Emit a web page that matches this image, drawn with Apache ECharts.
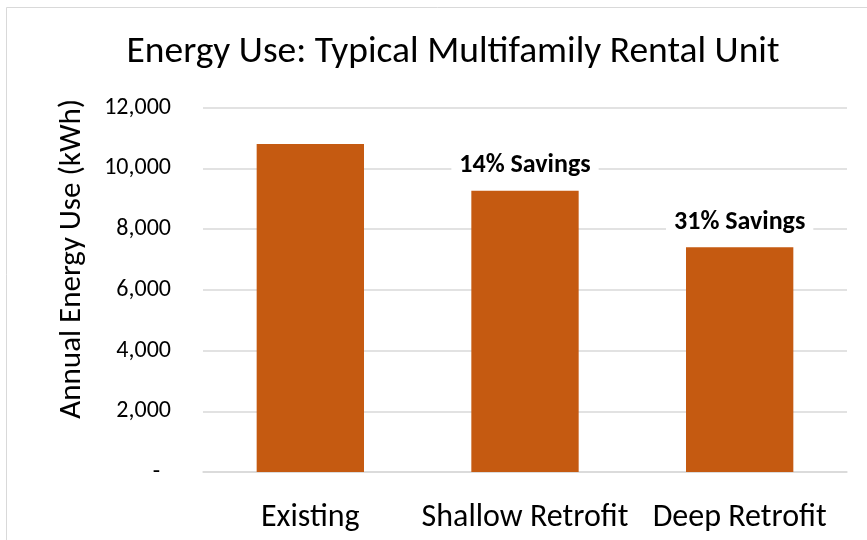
<!DOCTYPE html>
<html><head><meta charset="utf-8">
<script src="https://cdn.jsdelivr.net/npm/echarts@6/dist/echarts.min.js"></script>
<style>html,body{margin:0;padding:0;background:#fff}#c{width:867px;height:540px}</style>
</head><body><div id="c"></div>
<script>
const categories = ["Existing", "Shallow Retrofit", "Deep Retrofit"];
const energyUse = [10800, 9260, 7400];
const savingsLabels = ["", "14% Savings", "31% Savings"];
const yTicks = [0, 2000, 4000, 6000, 8000, 10000, 12000];

const FONT = 'Carlito, Calibri, "Open Sans", "Noto Sans", sans-serif';
const chart = echarts.init(document.getElementById('c'), null, {renderer: 'canvas'});
chart.setOption({
  animation: false,
  backgroundColor: '#fff',
  graphic: [{
    type: 'rect', shape: {x: 6.5, y: 7.5, width: 900, height: 600},
    style: {fill: 'none', stroke: '#d9d9d9', lineWidth: 1}, silent: true
  }],
  title: {
    text: 'Energy Use: Typical Multifamily Rental Unit',
    left: 448, top: 29, textAlign: 'center',
    textStyle: {fontFamily: FONT, fontSize: 37.5, fontWeight: 'normal', color: '#000'}
  },
  grid: {left: 203, right: 20, top: 107.5, bottom: 68},
  xAxis: {
    type: 'category', data: categories,
    axisLine: {lineStyle: {color: '#d9d9d9', width: 1.5}},
    axisTick: {show: false},
    axisLabel: {fontFamily: FONT, fontSize: 32, color: '#000', margin: 30, interval: 0, hideOverlap: false}
  },
  yAxis: {
    type: 'value', min: yTicks[0], max: yTicks[yTicks.length - 1], interval: 2000,
    name: 'Annual Energy Use (kWh)', nameLocation: 'middle', nameGap: 115,
    nameTextStyle: {fontFamily: FONT, fontSize: 31, color: '#000', padding: [0, 0, 0, 62]},
    axisLine: {show: false}, axisTick: {show: false},
    splitLine: {lineStyle: {color: '#d9d9d9', width: 1.5}},
    axisLabel: {
      fontFamily: FONT, fontSize: 24, color: '#000', margin: 32,
      formatter: v => v === 0 ? '-  ' : v.toLocaleString('en-US')
    }
  },
  series: [{
    type: 'bar', data: energyUse, barWidth: '50%',
    itemStyle: {color: '#C55A11'},
    label: {
      show: true, position: 'top', distance: 10,
      formatter: p => savingsLabels[p.dataIndex],
      fontFamily: FONT, fontSize: 26, fontWeight: 'bold', color: '#000',
      backgroundColor: '#fff', padding: [2, 8]
    }
  }]
});
</script></body></html>
